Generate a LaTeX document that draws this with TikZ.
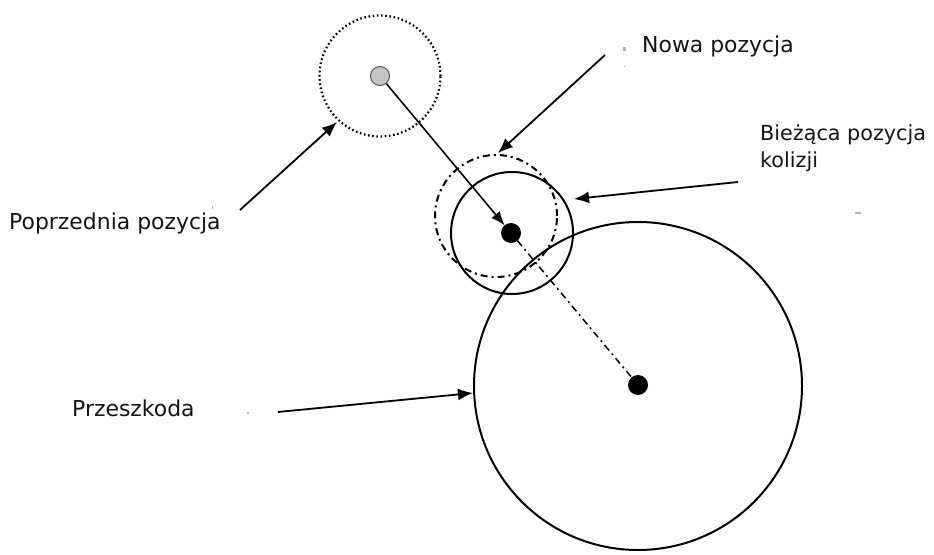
\documentclass[tikz,border=0pt]{standalone}
\usepackage{fontspec}
\setmainfont{DejaVu Sans}
\usetikzlibrary{arrows.meta}
\begin{document}
\begin{tikzpicture}[x=1bp,y=-1bp,
  lbl/.style={font=\fontsize{22}{28}\selectfont, text=black!92, inner sep=0, anchor=base west, align=left},
  lblnarrow/.style={lbl, font=\fontsize{20.8}{28}\selectfont},
  ring/.style={circle, draw, line width=2bp, inner sep=0, outer sep=0},
  dotring/.style={ring, line width=2.2bp, dash pattern=on 1.6bp off 2.6bp},
  dashdotring/.style={ring, line width=2bp, dash pattern=on 7bp off 4bp on 2bp off 4bp},
  ptr/.style={line width=1.8bp, -{Latex[length=15bp,width=12bp]}},
  blackdot/.style={circle, fill=black, inner sep=0, minimum size=20bp, outer sep=0},
  stray/.style={fill=gray!60, inner sep=0},
]
\useasboundingbox[fill=white] (0,0) rectangle (934,555);

% circles
\node[dotring, minimum size=121bp] (prevring) at (380,76) {};
\node[circle, draw=gray!70!black, fill=gray!45, line width=1bp, minimum size=19bp, inner sep=0] (prev) at (380,76) {};
\node[dashdotring, minimum size=122bp] (newring) at (496,216) {};
\node[ring, minimum size=122bp] (curring) at (512,233) {};
\node[blackdot] (cur) at (511,233) {};
\node[ring, minimum size=328bp] (obsring) at (638,386) {};
\node[blackdot] (obs) at (638,385) {};

% motion and contact lines
\draw[line width=1.6bp, -{Latex[length=14bp,width=11bp]}] (prev) -- (cur);
\draw[line width=1.5bp, dash pattern=on 7bp off 4bp on 2bp off 4bp] (cur) -- (obs);

% labels
\node[lbl] (nowa) at (642,53) {Nowa pozycja};
\node[lblnarrow] (biez) at (760,168) {Bieżąca pozycja\\kolizji};
\node[lbl] (popr) at (9,230) {Poprzednia pozycja};
\node[lbl] (prze) at (72,416) {Przeszkoda};

% pointer start points and tips
\coordinate (nowaS) at (605,55);
\coordinate (nowaT) at (498,153);
\coordinate (biezS) at (738,182);
\coordinate (biezT) at (574,199);
\coordinate (poprS) at (240,210);
\coordinate (poprT) at (337,122);
\coordinate (przeS) at (278,412);
\coordinate (przeT) at (473,393);

\draw[ptr] (nowaS) -- (nowaT);
\draw[ptr] (biezS) -- (biezT);
\draw[ptr] (poprS) -- (poprT);
\draw[ptr] (przeS) -- (przeT);

% small stray marks of the original
\fill[stray] (623,47) rectangle (626,51);
\fill[stray] (623.5,66) rectangle (625,67.5);
\fill[stray] (855,212) rectangle (861,214);
\fill[stray] (211.5,206) rectangle (213,209);
\fill[stray] (247,412) rectangle (249,414);
\end{tikzpicture}
\end{document}
